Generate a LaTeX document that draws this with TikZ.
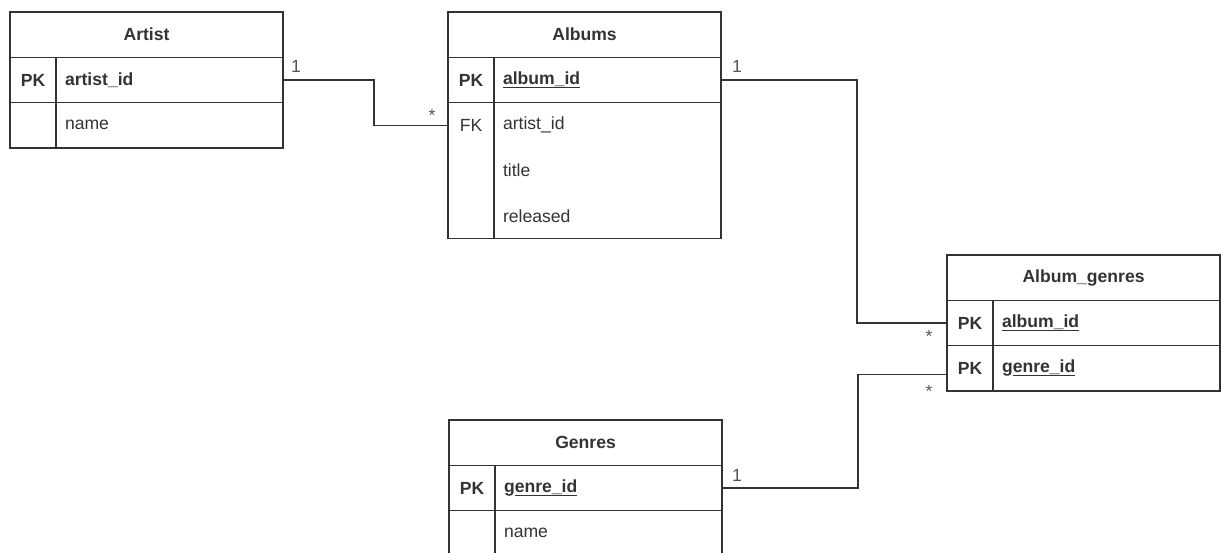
\documentclass[tikz,border=0pt]{standalone}
\usepackage{fontspec}
\setmainfont{Liberation Sans}
\usetikzlibrary{positioning}
\definecolor{linegray}{HTML}{333333}
\definecolor{labelgray}{HTML}{555555}
\newcommand\keyul[1]{\setbox0\hbox{#1}\rlap{\rule[-0.2em]{\wd0}{0.07em}}\box0}
\begin{document}
\begin{tikzpicture}[x=0.025cm, y=-0.025cm,
    every node/.style={inner sep=0pt, outer sep=0pt, text=linegray, font=\fontsize{12.5}{15}\selectfont},
    box/.style={draw=linegray, line width=0.9pt},
    tblhead/.style={box, minimum width=6.825cm, minimum height=1.133cm, font=\fontsize{12.5}{15}\selectfont\bfseries},
    keycell/.style={minimum width=1.15cm, minimum height=1.133cm},
    fieldcell/.style={minimum height=1.133cm, text width=5.225cm, inner xsep=0.225cm, align=left},
    card/.style={text=labelgray},
    conn/.style={draw=linegray, line width=0.9pt}]
  \useasboundingbox (0,0) rectangle (1221,552);
  \clip (0,0) rectangle (1221,552);

  \node[tblhead, anchor=north west] (artist) at (10,12) {Artist};
  \node[keycell, box, below right=0pt and 0pt of artist.south west, font=\fontsize{12.5}{15}\selectfont\bfseries] (artist-pk) {PK};
  \node[fieldcell, box, right=0pt of artist-pk, font=\fontsize{12.5}{15}\selectfont\bfseries] (artist-id) {artist\_id};
  \node[keycell, box, below=0pt of artist-pk] (artist-k2) {};
  \node[fieldcell, box, below=0pt of artist-id] (artist-name) {name};

  \node[tblhead, anchor=north west] (albums) at (448,12) {Albums};
  \node[keycell, box, below right=0pt and 0pt of albums.south west, font=\fontsize{12.5}{15}\selectfont\bfseries] (albums-pk) {PK};
  \node[fieldcell, box, right=0pt of albums-pk, font=\fontsize{12.5}{15}\selectfont\bfseries] (albums-id) {\keyul{album\_id}};
  \node[keycell, box, below=0pt of albums-pk, minimum height=3.4cm] (albums-kblk) {};
  \node[fieldcell, box, below=0pt of albums-id, minimum height=3.4cm] (albums-fblk) {};
  \node[keycell, below=0pt of albums-pk] (albums-fk) {FK};
  \node[fieldcell, right=0pt of albums-fk] (albums-artist) {artist\_id};
  \node[fieldcell, below=0pt of albums-artist] (albums-title) {title};
  \node[fieldcell, below=0pt of albums-title] (albums-released) {released};

  \node[tblhead, anchor=north west] (ag) at (947,255) {Album\_genres};
  \node[keycell, box, below right=0pt and 0pt of ag.south west, font=\fontsize{12.5}{15}\selectfont\bfseries] (ag-album) {PK};
  \node[fieldcell, box, right=0pt of ag-album, font=\fontsize{12.5}{15}\selectfont\bfseries] (ag-album-id) {\keyul{album\_id}};
  \node[keycell, box, below=0pt of ag-album, font=\fontsize{12.5}{15}\selectfont\bfseries] (ag-genre) {PK};
  \node[fieldcell, box, below=0pt of ag-album-id, font=\fontsize{12.5}{15}\selectfont\bfseries] (ag-genre-id) {g\keyul{enre\_id}};

  \node[tblhead, anchor=north west] (genres) at (449,420) {Genres};
  \node[keycell, box, below right=0pt and 0pt of genres.south west, font=\fontsize{12.5}{15}\selectfont\bfseries] (genres-pk) {PK};
  \node[fieldcell, box, right=0pt of genres-pk, font=\fontsize{12.5}{15}\selectfont\bfseries] (genres-id) {g\keyul{enre\_id}};
  \node[keycell, box, below=0pt of genres-pk] (genres-k2) {};
  \node[fieldcell, box, below=0pt of genres-id] (genres-name) {name};

  \draw[conn] (artist-id.east) -- ++(91,0) |- (albums-fk.west);
  \draw[conn] (albums-id.east) -- ++(136,0) |- (ag-album.west);
  \draw[conn] (genres-id.east) -- ++(136,0) |- ([yshift=-0.15cm]ag-genre.west);

  \node[card] (c-artist) at (296,66) {1};
  \node[card] (m-albums) at (432,115) {*};
  \node[card] (c-albums) at (737,66) {1};
  \node[card] (m-ag1) at (929,336) {*};
  \node[card] (c-genres) at (737,475) {1};
  \node[card] (m-ag2) at (929,391) {*};
\end{tikzpicture}
\end{document}
